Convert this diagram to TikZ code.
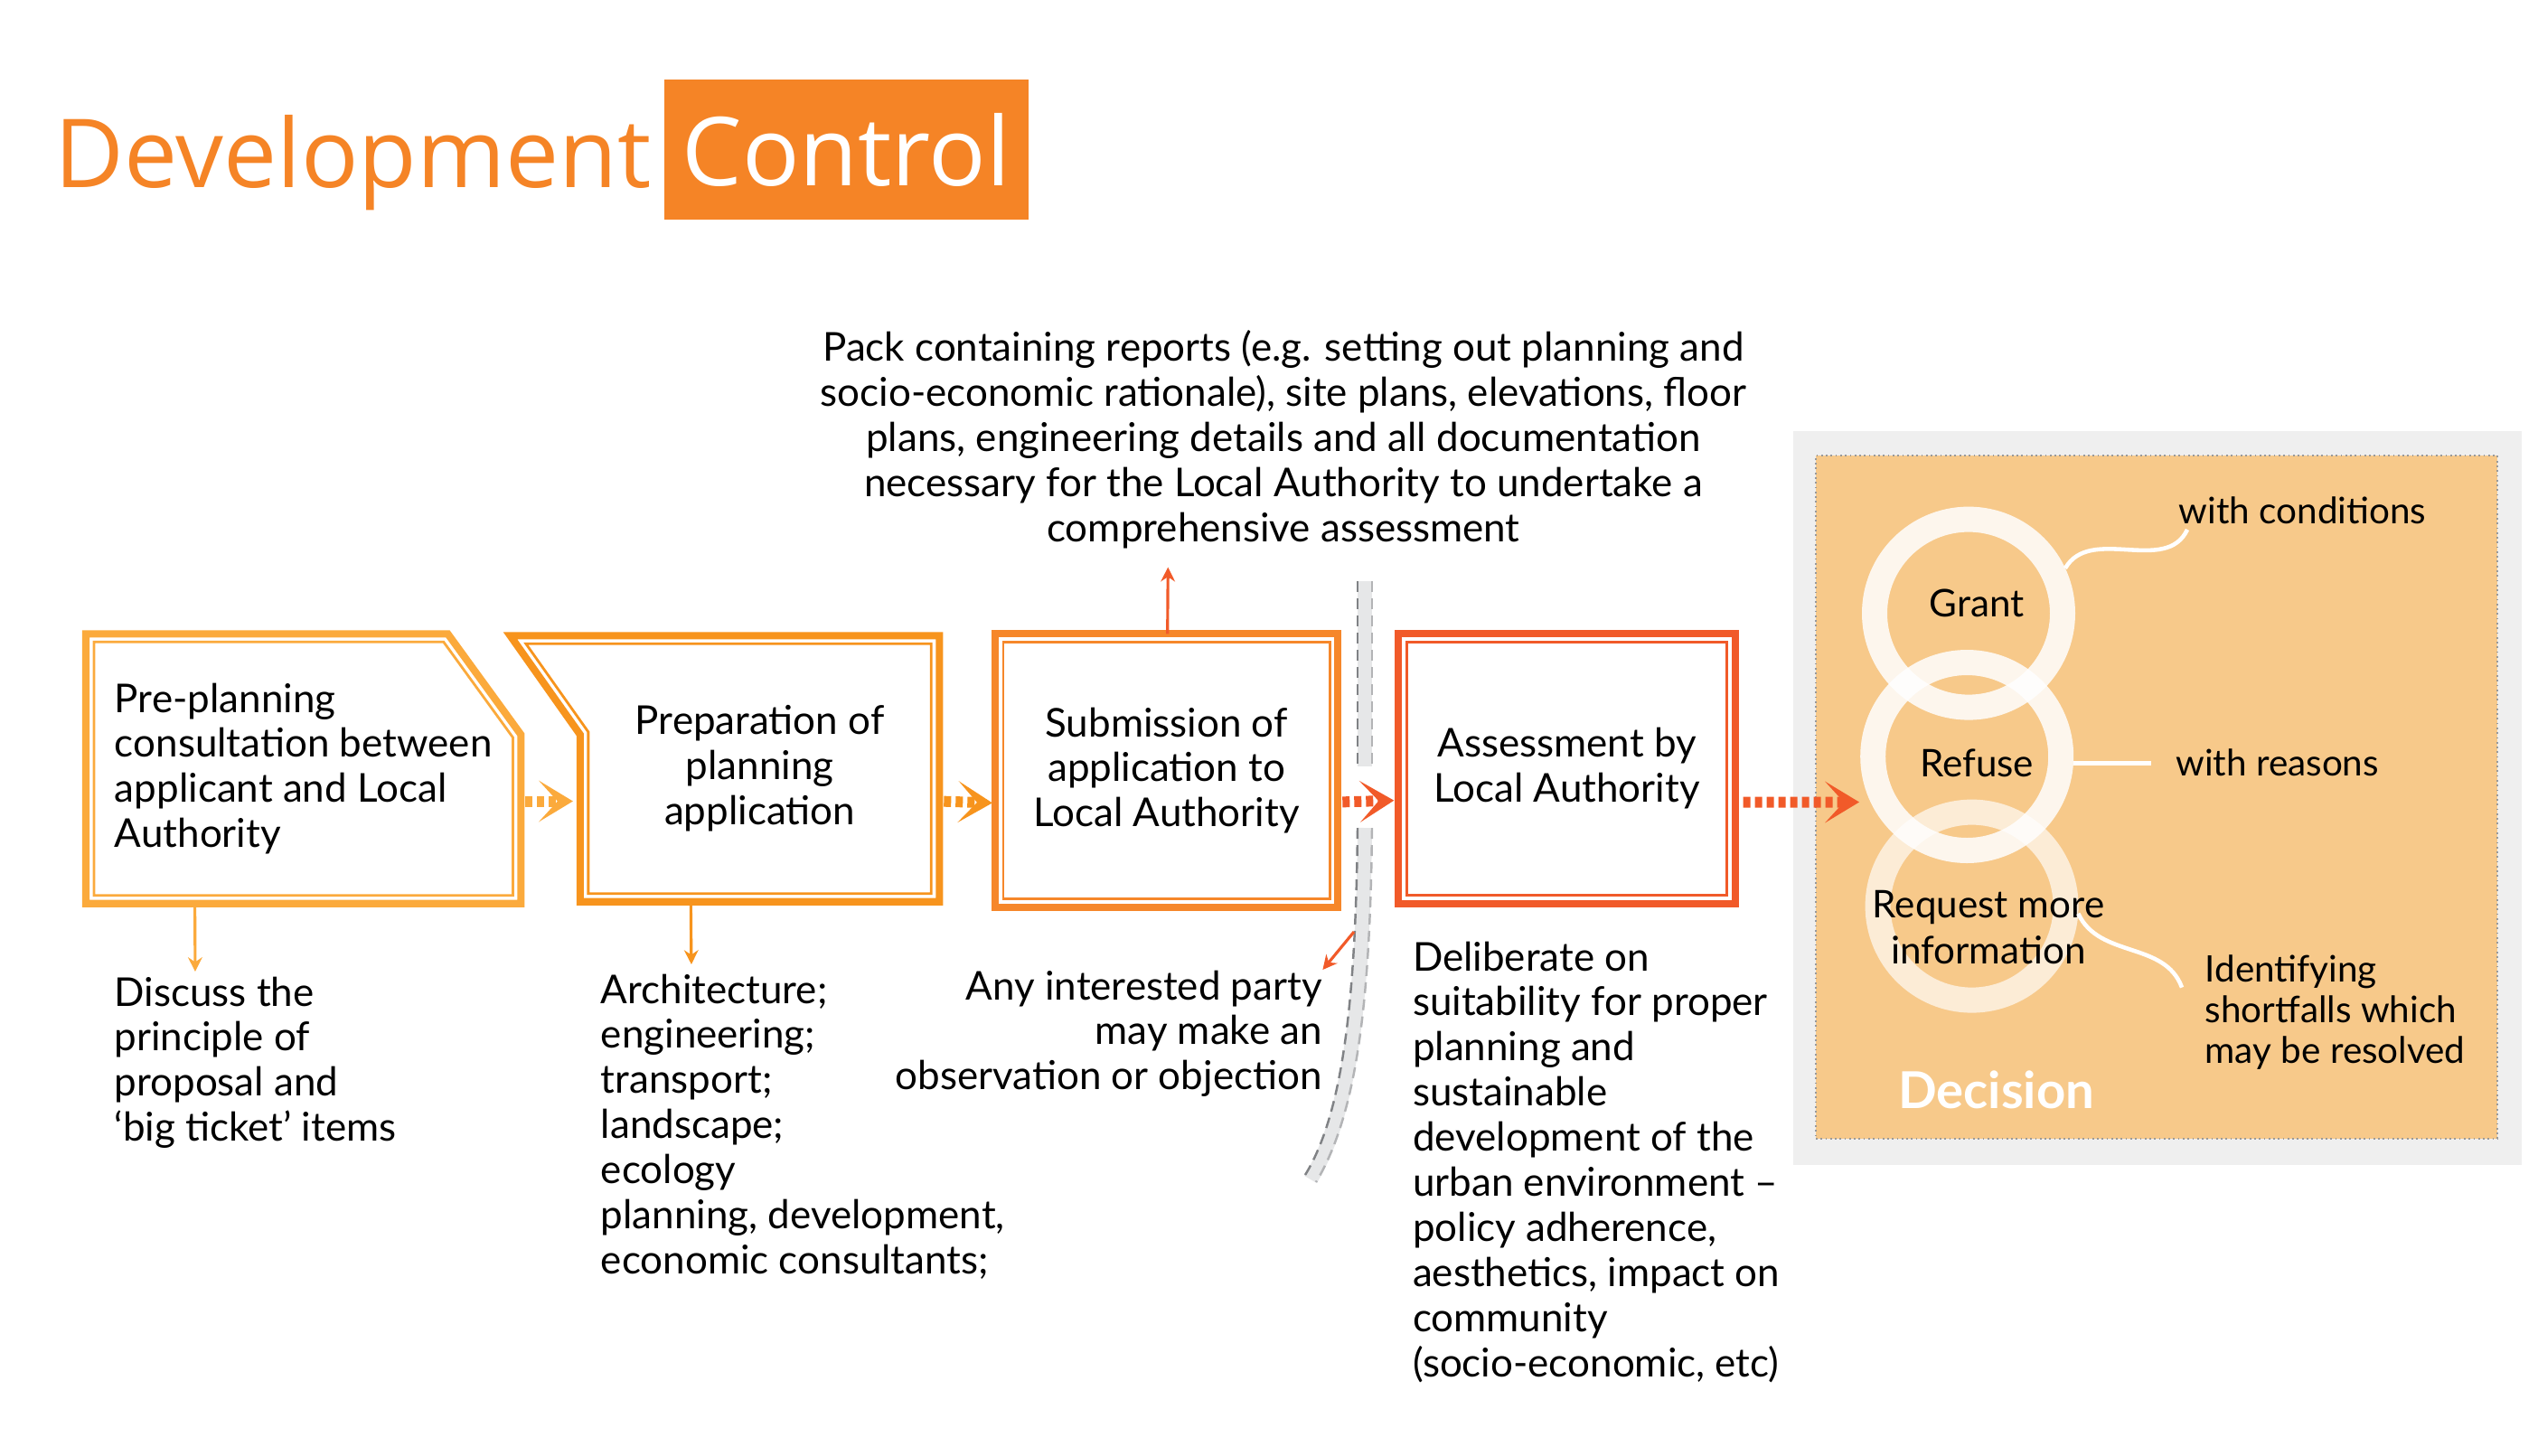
\documentclass[tikz,border=0pt]{standalone}
\usepackage{fontspec}
\setmainfont{Lato}
\newfontfamily\titlefont{Open Sans}
\usetikzlibrary{positioning,arrows.meta}

\definecolor{devorange}{HTML}{F58426}
\definecolor{stepA}{HTML}{FBAA3C}
\definecolor{stepB}{HTML}{F7941D}
\definecolor{stepC}{HTML}{F6872A}
\definecolor{stepD}{HTML}{F15A29}
\definecolor{decfill}{HTML}{F7C98A}
\definecolor{decback}{HTML}{EFEFEF}
\definecolor{bandgrey}{HTML}{E6E7E8}
\definecolor{dashgrey}{HTML}{808285}

\begin{document}
\begin{tikzpicture}[
 box/.style={inner sep=0pt, align=center, font=\fontsize{12.5}{14.2}\selectfont},
 note/.style={inner sep=0pt, font=\fontsize{12.5}{14.2}\selectfont},
 small/.style={inner sep=0pt, font=\fontsize{11.5}{12.8}\selectfont},
 frame/.style={draw=#1, line width=2.3pt},
 framein/.style={draw=#1, line width=0.8pt},
 flow/.style={draw=#1, line width=0.12cm, dash pattern=on 0.08cm off 0.05cm,
   -{Stealth[length=0.38cm, width=0.46cm, inset=0.21cm, line width=0pt]}},
 arrow/.style={draw=#1, line width=0.9pt, -{Stealth[length=4.5pt, width=4.5pt, inset=1.5pt]}},
 ring/.style={circle, draw=white, line width=0.28cm, minimum size=2.08cm, inner sep=0pt},
 lead/.style={draw=white, line width=1.3pt}
]
\useasboundingbox (0,0) rectangle (28.08,-16.10);

% title
\node[anchor=base west, inner sep=0pt, text=devorange, font=\titlefont\fontsize{30}{36}\selectfont] (dev) at (0.6,-2.07) {Development};
\node[anchor=west, fill=devorange, text=white, inner xsep=0.2cm, minimum height=1.55cm, font=\titlefont\fontsize{30}{36}\selectfont] (ctl) at (7.34,-1.655) {Control};

% steps
\node[box, align=left, minimum width=4.8cm, minimum height=2.97cm] (pre) at (3.357,-8.505) {Pre-planning\\consultation between\\applicant and Local\\Authority};
\node[box, minimum width=3.96cm, minimum height=2.93cm] (prep) at (8.406,-8.505) {Preparation of\\planning\\application};
\node[box, minimum width=3.78cm, minimum height=3.01cm] (sub) at (12.906,-8.525) {Submission of\\application to\\Local Authority};
\node[box, minimum width=3.71cm, minimum height=2.97cm] (assess) at (17.335,-8.505) {Assessment by\\Local Authority};

% frames
\draw[frame=stepA] (pre.north west) -- ([xshift=-0.81cm]pre.north east) -- ([yshift=-1.116cm]pre.north east) -- (pre.south east) -- (pre.south west) -- cycle;
\draw[framein=stepA] ([shift={(0.09,-0.09)}]pre.north west) -- ([shift={(-0.856,-0.09)}]pre.north east) -- ([shift={(-0.09,-1.146)}]pre.north east) -- ([shift={(-0.09,0.09)}]pre.south east) -- ([shift={(0.09,0.09)}]pre.south west) -- cycle;
\draw[frame=stepB] ([xshift=-0.774cm]prep.north west) -- (prep.north east) -- (prep.south east) -- (prep.south west) -- ([yshift=-1.096cm]prep.north west) -- cycle;
\draw[framein=stepB] ([shift={(-0.60,-0.09)}]prep.north west) -- ([shift={(-0.09,-0.09)}]prep.north east) -- ([shift={(-0.09,0.09)}]prep.south east) -- ([shift={(0.09,0.09)}]prep.south west) -- ([shift={(0.09,-1.066)}]prep.north west) -- cycle;
\draw[frame=stepC] (sub.north west) rectangle (sub.south east);
\draw[framein=stepC] ([shift={(0.09,-0.09)}]sub.north west) rectangle ([shift={(-0.09,0.09)}]sub.south east);
\draw[frame=stepD] (assess.north west) rectangle (assess.south east);
\draw[framein=stepD] ([shift={(0.09,-0.09)}]assess.north west) rectangle ([shift={(-0.09,0.09)}]assess.south east);

% separator band
\draw[bandgrey, line width=0.16cm] (15.1,-6.43) -- (15.1,-8.48);
\draw[dashgrey, line width=0.7pt, dash pattern=on 0.12cm off 0.07cm] (15.02,-6.43) -- (15.02,-8.48);
\draw[dashgrey!60, line width=0.7pt, dash pattern=on 0.12cm off 0.07cm] (15.18,-6.43) -- (15.18,-8.48);
\draw[bandgrey, line width=0.16cm] (15.1,-9.16) .. controls (15.08,-11.0) and (14.95,-12.3) .. (14.5,-13.05);
\draw[dashgrey, line width=0.7pt, dash pattern=on 0.12cm off 0.07cm] (15.02,-9.16) .. controls (15.0,-11.0) and (14.87,-12.3) .. (14.44,-13.0);
\draw[dashgrey!60, line width=0.7pt, dash pattern=on 0.12cm off 0.07cm] (15.18,-9.16) .. controls (15.16,-11.0) and (15.03,-12.3) .. (14.56,-13.08);

% decision panel
\node[fill=decback, minimum width=8.06cm, minimum height=8.12cm, inner sep=0pt] (panel) at (23.87,-8.83) {};
\node[fill=decfill, draw=gray!80, densely dotted, line width=0.5pt, minimum width=7.54cm, minimum height=7.56cm, inner sep=0pt] (dec) at (23.86,-8.82) {};
\node[ring, draw opacity=0.85] (grant) at (21.78,-6.786) {};
\node[ring, draw opacity=0.85] (refuse) at (21.762,-8.37) {};
\node[ring, draw opacity=0.65] (request) at (21.816,-10.026) {};
\node[inner sep=0pt, font=\fontsize{12}{14.3}\selectfont] (grantlbl) at (21.87,-6.678) {Grant};
\node[inner sep=0pt, font=\fontsize{12}{14.3}\selectfont] (refuselbl) at (21.87,-8.442) {Refuse};
\node[inner sep=0pt, align=center, font=\fontsize{12}{14.3}\selectfont] (requestlbl) at (22.0,-10.26) {Request more\\information};
\node[text=white, inner sep=0pt, font=\bfseries\fontsize{16}{19}\selectfont] (dectitle) at (22.086,-12.06) {Decision};
\node[small, anchor=west] (cond) at (24.1,-5.652) {with conditions};
\node[small, anchor=west] (reasons) at (24.066,-8.442) {with reasons};
\node[small, anchor=west, align=left] (ident) at (24.39,-11.196) {Identifying\\shortfalls which\\may be resolved};

% notes
\node[note, anchor=north, align=center] (pack) at (14.2,-3.65) {Pack containing reports (e.g. setting out planning and\\socio-economic rationale), site plans, elevations, floor\\plans, engineering details and all documentation\\necessary for the Local Authority to undertake a\\comprehensive assessment};
\node[note, anchor=north west, align=left] (discuss) at (1.26,-10.80) {Discuss the\\principle of\\proposal and\\`big ticket' items};
\node[note, anchor=north west, align=left] (arch) at (6.642,-10.77) {Architecture;\\engineering;\\transport;\\landscape;\\ecology\\planning, development,\\economic consultants;};
\node[note, anchor=north east, align=right] (any) at (14.634,-10.73) {Any interested party\\may make an\\observation or objection};
\node[note, anchor=north west, align=left] (delib) at (15.624,-10.41) {Deliberate on\\suitability for proper\\planning and\\sustainable\\development of the\\urban environment --\\policy adherence,\\aesthetics, impact on\\community\\(socio-economic, etc)};

% arrows
\coordinate (tipd) at (20.57,-8.875);
\coordinate (obj) at (14.98,-10.31);
\draw[flow=stepA, shorten <=0.05cm, shorten >=0.08cm] ([yshift=-0.36cm]pre.east) -- ([yshift=-0.36cm]prep.west);
\draw[flow=stepB, shorten <=0.05cm, shorten >=0.03cm] ([yshift=-0.36cm]prep.east) -- ([yshift=-0.36cm]sub.west);
\draw[flow=stepD, shorten <=0.05cm, shorten >=0.05cm] ([yshift=-0.35cm]sub.east) -- ([yshift=-0.35cm]assess.west);
\draw[flow=stepD, shorten <=0.09cm] ([yshift=-0.37cm]assess.east) -- (tipd);
\draw[arrow=stepA, shorten >=0.05cm] ([xshift=1.206cm]pre.south west) -- ([xshift=0.9cm]discuss.north west);
\draw[arrow=stepB, shorten >=0.1cm] ([xshift=1.224cm]prep.south west) -- ([xshift=1.008cm]arch.north west);
\draw[arrow=stepD, shorten >=0.2cm] ([xshift=1.908cm]sub.north west) -- ([xshift=-1.276cm]pack.south);
\draw[arrow=stepD] (obj) -- (any.north east);
\draw[lead] (grant.25) to[out=60,in=-115] ([xshift=0.1cm,yshift=-0.05cm]cond.south west);
\draw[lead, shorten >=0.27cm] (reasons.west -| refuse.east) -- (reasons.west);
\draw[lead] (request.-4) to[out=-65,in=110] ([xshift=-0.25cm,yshift=0.27cm]ident.west);

\end{tikzpicture}
\end{document}
